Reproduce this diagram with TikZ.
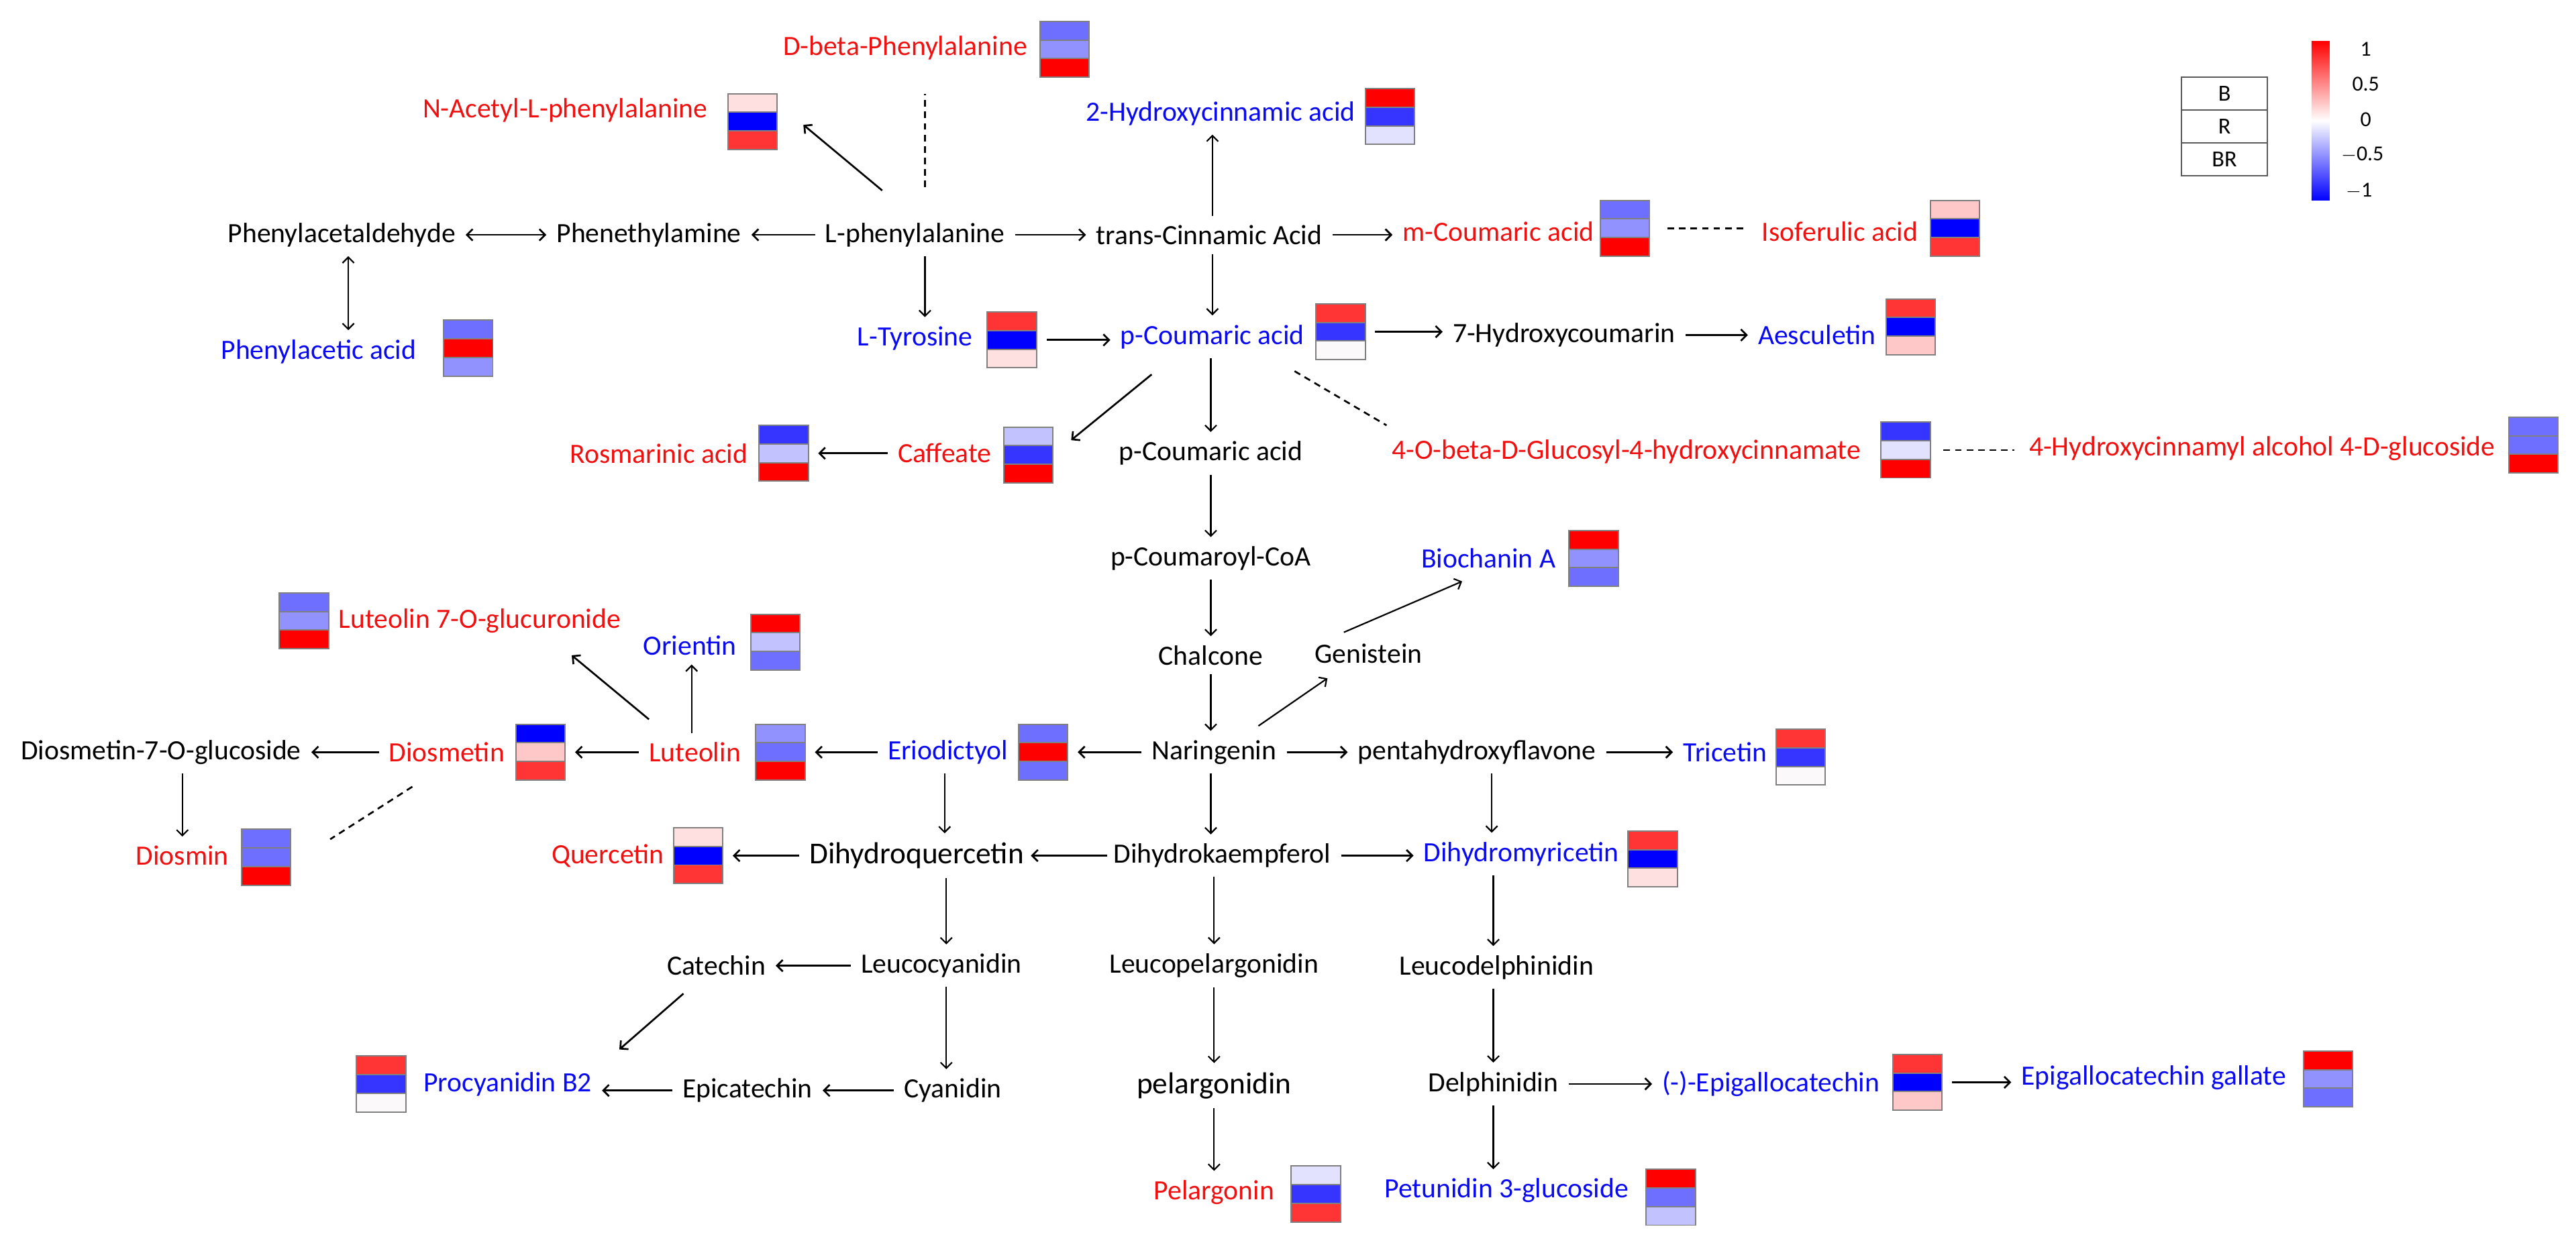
\documentclass[tikz,border=0pt]{standalone}
\usepackage{fontspec}
\setmainfont{Carlito}
\usetikzlibrary{arrows.meta}
\definecolor{R1}{HTML}{FF0000}\definecolor{R2}{HTML}{FF3535}\definecolor{R3}{HTML}{FFC8C8}
\definecolor{R4}{HTML}{FFE0E0}\definecolor{W}{HTML}{FBF9F9}
\definecolor{B1}{HTML}{0000FF}\definecolor{B2}{HTML}{3535FF}\definecolor{B3}{HTML}{6E6EFF}
\definecolor{B4}{HTML}{9292FF}\definecolor{B5}{HTML}{C2C2FF}\definecolor{B6}{HTML}{E2E2FF}
\definecolor{tred}{HTML}{F01010}\definecolor{tblue}{HTML}{0A0AF0}
\newcommand\heat[6]{%
 \node[minimum width=30pt,minimum height=34pt,inner sep=0pt,outer sep=3pt] (#1) at (#2,#3) {};
 \fill[#4] (#2-15,#3-17) rectangle (#2+15,#3-5.67);
 \fill[#5] (#2-15,#3-5.67) rectangle (#2+15,#3+5.67);
 \fill[#6] (#2-15,#3+5.67) rectangle (#2+15,#3+17);
 \draw[gray,line width=0.8pt] (#2-15,#3-17) rectangle (#2+15,#3+17) (#2-15,#3-5.67)--(#2+15,#3-5.67) (#2-15,#3+5.67)--(#2+15,#3+5.67);}
\tikzset{
 t/.style={font=\fontsize{17}{17}\selectfont,inner xsep=3pt,inner ysep=2.5pt},
 bk/.style={t,text=black},
 rd/.style={t,text=tred},
 bl/.style={t,text=tblue},
 big/.style={t,font=\fontsize{18.5}{18.5}\selectfont},
 arr/.style={-{Straight Barb[length=3.5pt,width=7pt]},line width=1.1pt,shorten >=3pt,shorten <=3pt},
 varr/.style={arr,line width=0.9pt},
 dbl/.style={arr,{Straight Barb[length=3.5pt,width=7pt]}-{Straight Barb[length=3.5pt,width=7pt]}},
 dsh/.style={dashed,dash pattern=on 4pt off 3pt,line width=1.1pt},
 lg/.style={t,font=\fontsize{14}{14}\selectfont},
 sc/.style={t,font=\fontsize{13}{13}\selectfont}
}
\begin{document}
\begin{tikzpicture}[x=1pt,y=-1pt]
\useasboundingbox (0,0) rectangle (1568,760.5);
\fill[white] (0,0) rectangle (1568,760.5);
% nodes
\node[bk] (paa) at (208,143) {Phenylacetaldehyde};
\node[bk] (pea) at (395,143) {Phenethylamine};
\node[bk] (lphe) at (557,143) {L-phenylalanine};
\node[bk] (tca) at (736,143) {trans-Cinnamic Acid};
\node[rd] (mca) at (912,141) {m-Coumaric acid}; \heat{hm-mca}{989}{139}{B3}{B4}{R1}
\node[rd] (iso) at (1120,141) {Isoferulic acid}; \heat{hm-iso}{1190}{139}{R3}{B1}{R2}
\node[rd] (dbp) at (551,29) {D-beta-Phenylalanine}; \heat{hm-dbp}{648}{30}{B3}{B4}{R1}
\node[rd] (nac) at (344,67) {N-Acetyl-L-phenylalanine}; \heat{hm-nac}{458}{74}{R4}{B1}{R2}
\node[bl] (hca) at (743,69) {2-Hydroxycinnamic acid}; \heat{hm-hca}{846}{71}{R1}{B2}{B6}
\node[bl] (pac) at (194,214) {Phenylacetic acid}; \heat{hm-pac}{285}{212}{B3}{R1}{B4}
\node[bl] (tyr) at (557,206) {L-Tyrosine}; \heat{hm-tyr}{616}{207}{R2}{B1}{R4}
\node[bl] (pca) at (738,205) {p-Coumaric acid}; \heat{hm-pca}{816}{202}{R2}{B2}{W}
\node[bk] (hyc) at (952,204) {7-Hydroxycoumarin};
\node[bl] (aes) at (1106,204) {Aesculetin}; \heat{hm-aes}{1163}{199}{R2}{B1}{R3}
\node[rd] (ros) at (401,276) {Rosmarinic acid}; \heat{hm-ros}{477}{276}{B2}{B5}{R1}
\node[rd] (caf) at (575,276) {Caffeate}; \heat{hm-caf}{626}{277}{B5}{B2}{R1}
\node[bk] (pca2) at (737,276) {p-Coumaric acid};
\node[rd] (gly) at (990,275) {4-O-beta-D-Glucosyl-4-hydroxycinnamate}; \heat{hm-gly}{1160}{274}{B2}{B6}{R1}
\node[rd] (hcg) at (1377,273) {4-Hydroxycinnamyl alcohol 4-D-glucoside}; \heat{hm-hcg}{1542}{271}{B3}{B3}{R1}
\node[bk] (coa) at (737,340) {p-Coumaroyl-CoA};
\node[bl] (bio) at (906,340) {Biochanin A}; \heat{hm-bio}{970}{340}{R1}{B4}{B3}
\node[rd,anchor=west] (l7g) at (203,378) {Luteolin 7-O-glucuronide}; \heat{hm-l7g}{185}{378}{B3}{B4}{R1}
\node[bl] (ori) at (420,393) {Orientin}; \heat{hm-ori}{472}{391}{R1}{B5}{B3}
\node[bk] (chal) at (737,399) {Chalcone};
\node[bk] (gen) at (833,398) {Genistein};
\node[bk] (d7g) at (98,458) {Diosmetin-7-O-glucoside};
\node[rd] (dsm) at (272,458) {Diosmetin}; \heat{hm-dsm}{329}{458}{B1}{R3}{R2}
\node[rd] (lut) at (423,458) {Luteolin}; \heat{hm-lut}{475}{458}{B4}{B3}{R1}
\node[bl] (eri) at (577,458) {Eriodictyol}; \heat{hm-eri}{635}{458}{B3}{R1}{B3}
\node[bk] (nar) at (739,458) {Naringenin};
\node[bk] (phf) at (899,458) {pentahydroxyflavone};
\node[bl] (tri) at (1050,458) {Tricetin}; \heat{hm-tri}{1096}{461}{R2}{B2}{W}
\node[rd] (dsn) at (111,521) {Diosmin}; \heat{hm-dsn}{162}{522}{B3}{B3}{R1}
\node[rd] (que) at (370,521) {Quercetin}; \heat{hm-que}{425}{521}{R4}{B1}{R2}
\node[big] (dhq) at (558,521) {Dihydroquercetin};
\node[bk] (dhk) at (744,521) {Dihydrokaempferol};
\node[bl] (dhm) at (926,520) {Dihydromyricetin}; \heat{hm-dhm}{1006}{523}{R2}{B1}{R4}
\node[bk] (cat) at (436,588) {Catechin};
\node[bk] (lcy) at (573,588) {Leucocyanidin};
\node[bk] (lpg) at (739,588) {Leucopelargonidin};
\node[bk] (ldp) at (911,589) {Leucodelphinidin};
\node[bl] (pro) at (309,660) {Procyanidin B2}; \heat{hm-pro}{232}{660}{R2}{B2}{W}
\node[bk] (epi) at (455,664) {Epicatechin};
\node[bk] (cya) at (580,664) {Cyanidin};
\node[big] (pel) at (739,661) {pelargonidin};
\node[bk] (del) at (909,660) {Delphinidin};
\node[bl] (egc) at (1078,660) {(-)-Epigallocatechin}; \heat{hm-egc}{1167}{659}{R2}{B1}{R3}
\node[bl] (egcg) at (1311,656) {Epigallocatechin gallate}; \heat{hm-egcg}{1417}{657}{R1}{B4}{B3}
\node[rd] (pgn) at (739,726) {Pelargonin}; \heat{hm-pgn}{801}{727}{B6}{B2}{R2}
\node[bl] (pet) at (917,725) {Petunidin 3-glucoside}; \heat{hm-pet}{1017}{729}{R1}{B3}{B5}
% horizontal arrows
\draw[dbl] (paa.east) -- (paa.east -| pea.west);
\draw[arr] (lphe.west) -- (lphe.west -| pea.east);
\draw[arr] (lphe.east) -- (lphe.east -| tca.west);
\draw[arr] (tca.east) -- (tca.east -| mca.west);
\draw[dsh,shorten >=8pt,shorten <=8pt] (hm-mca.east) -- (hm-mca.east -| iso.west);
\draw[arr] (hm-tyr.east) -- (hm-tyr.east -| pca.west);
\draw[arr] (hm-pca.east) -- (hm-pca.east -| hyc.west);
\draw[arr] (hyc.east) -- (hyc.east -| aes.west);
\draw[arr] (caf.west) -- (caf.west -| hm-ros.east);
\draw[dsh,shorten >=6pt,shorten <=5pt] (hm-gly.east) -- (hm-gly.east -| hcg.west);
\draw[arr] (dsm.west) -- (dsm.west -| d7g.east);
\draw[arr] (lut.west) -- (lut.west -| hm-dsm.east);
\draw[arr] (eri.west) -- (eri.west -| hm-lut.east);
\draw[arr] (nar.west) -- (nar.west -| hm-eri.east);
\draw[arr] (nar.east) -- (nar.east -| phf.west);
\draw[arr] (phf.east) -- (phf.east -| tri.west);
\draw[arr] (dhq.west) -- (dhq.west -| hm-que.east);
\draw[arr,shorten >=1pt,shorten <=1pt] (dhk.west) -- (dhk.west -| dhq.east);
\draw[arr] (dhk.east) -- (dhk.east -| dhm.west);
\draw[arr] (lcy.west) -- (lcy.west -| cat.east);
\draw[arr] (epi.west) -- (epi.west -| pro.east);
\draw[arr] (cya.west) -- (cya.west -| epi.east);
\draw[arr] (del.east) -- (del.east -| egc.west);
\draw[arr] (hm-egc.east) -- (hm-egc.east -| egcg.west);
% vertical arrows
\draw[dbl,line width=0.9pt] ([xshift=4pt]paa.south) -- ([xshift=4pt]paa.south |- pac.north);
\draw[varr] ([xshift=6pt]lphe.south) -- ([xshift=6pt]lphe.south |- tyr.north);
\draw[varr] ([xshift=2pt]tca.north) -- ([xshift=2pt]tca.north |- hca.south);
\draw[varr] ([xshift=2pt]tca.south) -- ([xshift=2pt]tca.south |- pca.north);
\draw[varr] (pca2.north |- pca.south) -- (pca2.north);
\draw[varr] (pca2.south) -- (pca2.south |- coa.north);
\draw[varr] (coa.south) -- (coa.south |- chal.north);
\draw[varr] (chal.south) -- (chal.south |- nar.north);
\draw[varr] (nar.south -| chal.south) -- (chal.south |- dhk.north);
\draw[varr] (lpg.north |- dhk.south) -- (lpg.north);
\draw[varr] (lpg.south) -- (lpg.south |- pel.north);
\draw[varr] (pel.south) -- (pel.south |- pgn.north);
\draw[varr] (dsn.north |- d7g.south) -- (dsn.north);
\draw[varr] ([xshift=-2pt]eri.south) -- ([xshift=-2pt]eri.south |- dhq.north);
\draw[varr] ([xshift=3pt]lcy.north |- dhq.south) -- ([xshift=3pt]lcy.north);
\draw[varr] ([xshift=3pt]lcy.south) -- ([xshift=3pt]lcy.south |- cya.north);
\draw[varr] ([xshift=9pt]phf.south) -- ([xshift=9pt]phf.south |- dhm.north);
\draw[varr] ([xshift=-2pt]ldp.north |- dhm.south) -- ([xshift=-2pt]ldp.north);
\draw[varr] ([xshift=-2pt]ldp.south) -- ([xshift=-2pt]ldp.south |- del.north);
\draw[varr] (del.south) -- (del.south |- pet.north);
\draw[varr] ([xshift=-2pt]lut.north) -- ([xshift=-2pt]lut.north |- ori.south);
% diagonal arrows
\coordinate (c1s) at (537,116); \coordinate (c1) at (489,76); \draw[arr,shorten <=0pt,shorten >=0pt] (c1s) -- (c1);
\coordinate (c2s) at (395,438); \coordinate (c2) at (348,399); \draw[arr,shorten <=0pt,shorten >=0pt] (c2s) -- (c2);
\coordinate (c3s) at (701,228); \coordinate (c3) at (652,268); \draw[arr,shorten <=0pt,shorten >=0pt] (c3s) -- (c3);
\coordinate (c4s) at (766,442); \coordinate (c4) at (808,413); \draw[arr,line width=0.9pt,shorten <=0pt,shorten >=0pt] (c4s) -- (c4);
\coordinate (c5s) at (818,385); \coordinate (c5) at (890,354); \draw[arr,line width=0.9pt,shorten <=0pt,shorten >=0pt] (c5s) -- (c5);
\coordinate (c6s) at (416,605); \coordinate (c6) at (377,639); \draw[arr,shorten <=0pt,shorten >=0pt] (c6s) -- (c6);
% dashed
\coordinate (d1s) at (563,114); \coordinate (d1) at (563,57); \draw[dsh] (d1s) -- (d1);
\coordinate (d2s) at (788,226); \coordinate (d2) at (844,259); \draw[dsh] (d2s) -- (d2);
\coordinate (d3s) at (251,479); \coordinate (d3) at (201,511); \draw[dsh] (d3s) -- (d3);
% legend
\draw[gray!70!black,line width=0.8pt] (1328,47) rectangle (1380,107) (1328,67) -- (1380,67) (1328,87) -- (1380,87);
\node[lg] (lgB) at (1354,57) {B};
\node[lg] (lgR) at (1354,77) {R};
\node[lg] (lgBR) at (1354,97) {BR};
\shade[top color=red,bottom color=blue,middle color=white] (1407,25) rectangle (1418,122);
\node[sc] (s1) at (1440,30) {1};
\node[sc] (s2) at (1440,51) {0.5};
\node[sc] (s3) at (1440,73) {0};
\node[sc] (s4) at (1438,94) {$-$0.5};
\node[sc] (s5) at (1436,116) {$-$1};
\end{tikzpicture}
\end{document}
